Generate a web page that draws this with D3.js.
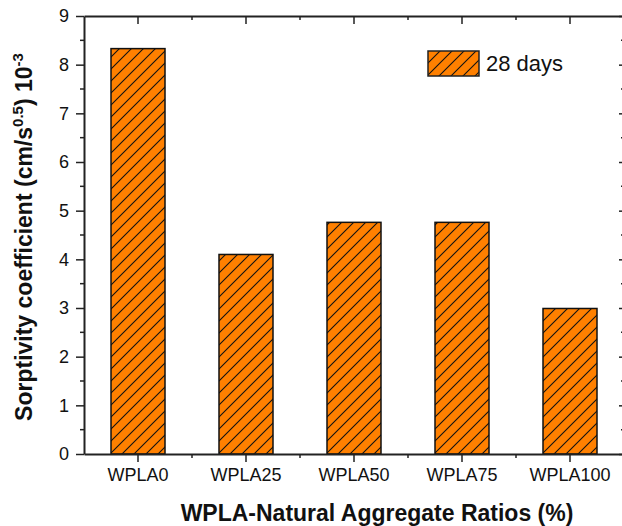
<!DOCTYPE html>
<html>
<head>
<meta charset="utf-8">
<script src="https://cdn.jsdelivr.net/npm/d3@7"></script>
<style>
  html, body { margin: 0; padding: 0; background: #fff; }
  svg { display: block; font-family: "Liberation Sans", Arial, sans-serif; }
</style>
</head>
<body>
<div id="chart"></div>
<script>
// ── Data ──
const categories = ["WPLA0", "WPLA25", "WPLA50", "WPLA75", "WPLA100"];
const values = [8.33, 4.10, 4.76, 4.76, 2.99];
const yTicks = [0, 1, 2, 3, 4, 5, 6, 7, 8, 9];
const seriesName = "28 days";

const width = 622, height = 526;
const margin = { top: 16, right: -2, bottom: 72, left: 84 };
const frameColor = "#222";
const barColor = "#ff8000";

const svg = d3.select("#chart").append("svg")
  .attr("width", width).attr("height", height);

// hatch pattern (/ lines)
const defs = svg.append("defs");
const pat = defs.append("pattern")
  .attr("id", "hatch")
  .attr("patternUnits", "userSpaceOnUse")
  .attr("width", 12).attr("height", 12);
pat.append("rect").attr("width", 12).attr("height", 12).attr("fill", barColor);
pat.append("path")
  .attr("d", "M0,12 L12,0 M-3,3 L3,-3 M9,15 L15,9")
  .attr("stroke", "#111").attr("stroke-width", 1.1);

const x = d3.scaleBand()
  .domain(categories)
  .range([margin.left, width - margin.right])
  .paddingInner(0.5).paddingOuter(0.25);

const y = d3.scaleLinear()
  .domain([0, 9])
  .range([height - margin.bottom, margin.top]);

const x0 = margin.left, x1 = width - margin.right;
const y0 = height - margin.bottom, y1 = margin.top;

// ── Bars ──
svg.append("g").selectAll("rect")
  .data(values)
  .join("rect")
  .attr("x", (d, i) => x(categories[i]))
  .attr("y", d => y(d))
  .attr("width", x.bandwidth())
  .attr("height", d => y(0) - y(d))
  .attr("fill", "url(#hatch)")
  .attr("stroke", "#111")
  .attr("stroke-width", 1.5);

// ── Axes ──
const minorY = d3.range(0.5, 9, 1);
const step = x.step();
const minorX = d3.range(1, categories.length).map(i => x.range()[0] + step * i);

// left axis (outward ticks)
const leftAx = svg.append("g").attr("transform", `translate(${x0},0)`)
  .call(d3.axisLeft(y).tickValues(yTicks).tickSize(8).tickPadding(7).tickSizeOuter(0));
leftAx.selectAll(".tick text").attr("font-size", 18).attr("fill", "#111");
leftAx.selectAll("line.minor").data(minorY).join("line")
  .attr("class", "minor").attr("x1", -4).attr("x2", 0)
  .attr("y1", d => y(d)).attr("y2", d => y(d));

// bottom axis (outward ticks)
const bottomAx = svg.append("g").attr("transform", `translate(0,${y0})`)
  .call(d3.axisBottom(x).tickSize(8).tickPadding(6).tickSizeOuter(0));
bottomAx.selectAll(".tick text").attr("font-size", 18).attr("fill", "#111");
bottomAx.selectAll("line.minor").data(minorX).join("line")
  .attr("class", "minor").attr("y1", 0).attr("y2", 4)
  .attr("x1", d => d).attr("x2", d => d);

// top axis (inward ticks)
const topAx = svg.append("g").attr("transform", `translate(0,${y1})`)
  .call(d3.axisBottom(x).tickSize(8).tickFormat("").tickSizeOuter(0));
topAx.selectAll("line.minor").data(minorX).join("line")
  .attr("class", "minor").attr("y1", 0).attr("y2", 4)
  .attr("x1", d => d).attr("x2", d => d);

// right axis (inward ticks)
const rightAx = svg.append("g").attr("transform", `translate(${x1},0)`)
  .call(d3.axisLeft(y).tickValues(yTicks).tickSize(-8).tickFormat("").tickSizeOuter(0));
rightAx.selectAll(".tick line").attr("x2", -5);
rightAx.selectAll("line.minor").data(minorY).join("line")
  .attr("class", "minor").attr("x1", -3).attr("x2", 0)
  .attr("y1", d => y(d)).attr("y2", d => y(d));

svg.selectAll(".domain").attr("stroke", frameColor).attr("stroke-width", 2);
svg.selectAll(".tick line, line.minor").attr("stroke", frameColor).attr("stroke-width", 1.5);

// ── Axis titles ──
svg.append("text")
  .attr("x", 377).attr("y", 521)
  .attr("text-anchor", "middle")
  .attr("font-size", 23).attr("font-weight", "bold").attr("fill", "#111")
  .text("WPLA-Natural Aggregate Ratios (%)");

const yl = svg.append("text")
  .attr("transform", "translate(32,237) rotate(-90)")
  .attr("text-anchor", "middle")
  .attr("font-size", 23).attr("font-weight", "bold").attr("fill", "#111");
yl.append("tspan").text("Sorptivity coefficient (cm/s");
yl.append("tspan").attr("font-size", 15).attr("dy", -9).text("0.5");
yl.append("tspan").attr("dy", 9).text(") 10");
yl.append("tspan").attr("font-size", 15).attr("dy", -9).text("-3");

// ── Legend ──
const lg = svg.append("g").attr("transform", "translate(428,51)");
lg.append("rect").attr("width", 51).attr("height", 25)
  .attr("fill", "url(#hatch)").attr("stroke", "#222").attr("stroke-width", 1.5);
lg.append("text").attr("x", 58).attr("y", 20)
  .attr("font-size", 22).attr("fill", "#111").text(seriesName);
</script>
</body>
</html>
